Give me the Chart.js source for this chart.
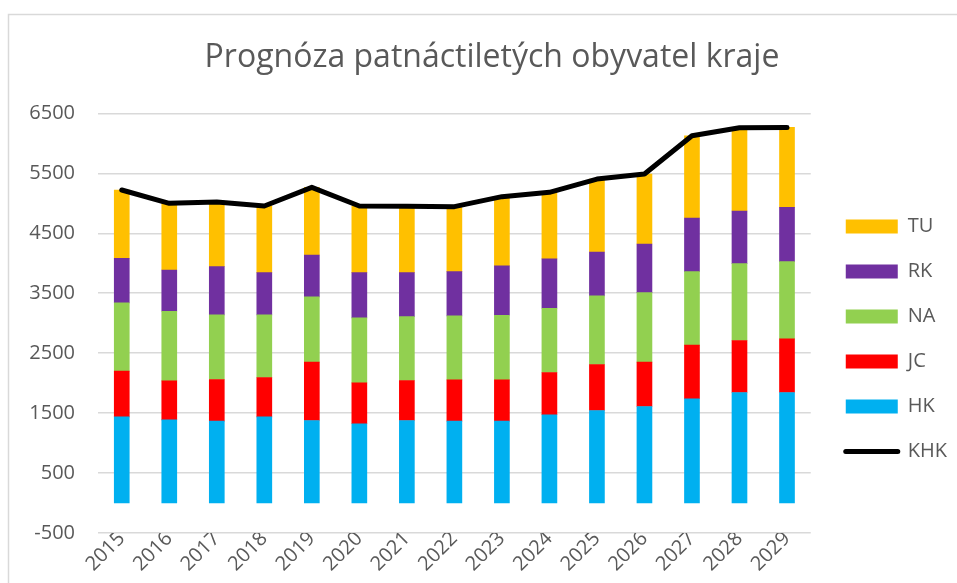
<!DOCTYPE html>
<html>
<head>
<meta charset="utf-8">
<script src="https://cdn.jsdelivr.net/npm/chart.js@4"></script>
<style>
  html, body { margin: 0; padding: 0; background: #fff; }
  #wrap { width: 957px; height: 583px; position: relative; }
</style>
</head>
<body>
<div id="wrap"><canvas id="chart"></canvas></div>
<script>
  var years = ['2015', '2016', '2017', '2018', '2019', '2020', '2021', '2022', '2023', '2024', '2025', '2026', '2027', '2028', '2029'];
  var hk = [1438, 1388, 1367, 1438, 1377, 1322, 1377, 1367, 1367, 1472, 1544, 1611, 1739, 1844, 1844];
  var jc = [762, 650, 694, 656, 973, 683, 667, 688, 688, 705, 767, 739, 894, 867, 894];
  var na = [1138, 1162, 1077, 1044, 1088, 1083, 1067, 1067, 1078, 1073, 1144, 1161, 1228, 1283, 1289];
  var rk = [745, 688, 806, 706, 700, 756, 733, 739, 822, 822, 733, 811, 894, 878, 906];
  var tu = [1139, 1112, 1076, 1111, 1129, 1111, 1106, 1083, 1156, 1111, 1217, 1166, 1372, 1389, 1333];
  var khk = [5222, 5000, 5020, 4955, 5267, 4955, 4950, 4944, 5111, 5183, 5405, 5488, 6127, 6261, 6266];

  var legendOrder = ['TU', 'RK', 'NA', 'JC', 'HK', 'KHK'];
  var textColor = '#595959';
  var gridColor = '#d9d9d9';

  // tenky ramecek kolem grafu jako v Excelu
  var framePlugin = {
    id: 'frame',
    beforeDraw: function(chart) {
      var c = chart.ctx;
      c.save();
      c.fillStyle = '#fff';
      c.fillRect(0, 0, chart.width, chart.height);
      c.strokeStyle = gridColor;
      c.lineWidth = 1.5;
      c.strokeRect(8.5, 14.5, 2000, 2000);
      c.restore();
    }
  };

  function barSet(label, data, color) {
    return {
      type: 'bar',
      label: label,
      data: data,
      backgroundColor: color,
      borderWidth: 0,
      barThickness: 15,
      order: 1
    };
  }

  var ctx = document.getElementById('chart').getContext('2d');
  var chart = new Chart(ctx, {
    type: 'bar',
    data: {
      labels: years,
      datasets: [
        barSet('HK', hk, '#00B0F0'),
        barSet('JC', jc, '#FF0000'),
        barSet('NA', na, '#92D050'),
        barSet('RK', rk, '#7030A0'),
        barSet('TU', tu, '#FFC000'),
        {
          type: 'line',
          label: 'KHK',
          data: khk,
          borderColor: '#000',
          backgroundColor: '#000',
          borderWidth: 5,
          borderCapStyle: 'round',
          borderJoinStyle: 'round',
          pointRadius: 0,
          pointStyle: 'line',
          tension: 0,
          order: 0
        }
      ]
    },
    options: {
      responsive: true,
      maintainAspectRatio: false,
      animation: false,
      layout: { padding: { left: 27, right: 0, top: 20, bottom: 0 } },
      plugins: {
        title: {
          display: true,
          text: 'Prognóza patnáctiletých obyvatel kraje',
          color: textColor,
          font: { family: 'Open Sans', size: 32, weight: 'normal' },
          padding: { top: 19, bottom: 36 }
        },
        legend: {
          position: 'right',
          title: { display: true, text: ' ', font: { size: 1 }, padding: { top: 37, bottom: 37 } },
          labels: {
            color: textColor,
            font: { family: 'Open Sans', size: 20 },
            usePointStyle: true,
            pointStyleWidth: 52,
            boxHeight: 14,
            padding: 25,
            generateLabels: function(chart) {
              var items = Chart.defaults.plugins.legend.labels.generateLabels(chart);
              items.forEach(function(it) {
                var ds = chart.data.datasets[it.datasetIndex];
                if (ds.type === 'line') {
                  it.pointStyle = 'line';
                  it.lineWidth = 5;
                  it.lineCap = 'round';
                  it.strokeStyle = '#000';
                } else {
                  it.pointStyle = 'rect';
                  it.lineWidth = 0;
                }
              });
              return items;
            },
            sort: function(a, b) {
              return legendOrder.indexOf(a.text) - legendOrder.indexOf(b.text);
            }
          }
        },
        tooltip: { enabled: false }
      },
      scales: {
        x: {
          stacked: true,
          grid: { display: false },
          border: { display: false },
          ticks: {
            color: textColor,
            font: { family: 'Open Sans', size: 20 },
            maxRotation: 45,
            minRotation: 45,
            padding: -14
          },
          afterFit: function(scale) { scale.height = 50; }
        },
        y: {
          stacked: true,
          min: -500,
          max: 6500,
          grid: { color: gridColor, lineWidth: 1.5, drawTicks: false },
          border: { display: false },
          ticks: {
            stepSize: 1000,
            color: textColor,
            font: { family: 'Open Sans', size: 20 },
            padding: 23,
            callback: function(v) { return String(v); }
          },
          afterFit: function(scale) { scale.width = 71; }
        },
        // prazdna osa vpravo, jen mezera mezi grafem a legendou
        gap: {
          position: 'right',
          display: true,
          grid: { display: false },
          border: { display: false },
          ticks: { display: false },
          afterFit: function(scale) { scale.width = 10; }
        }
      }
    },
    plugins: [framePlugin]
  });
</script>
</body>
</html>
